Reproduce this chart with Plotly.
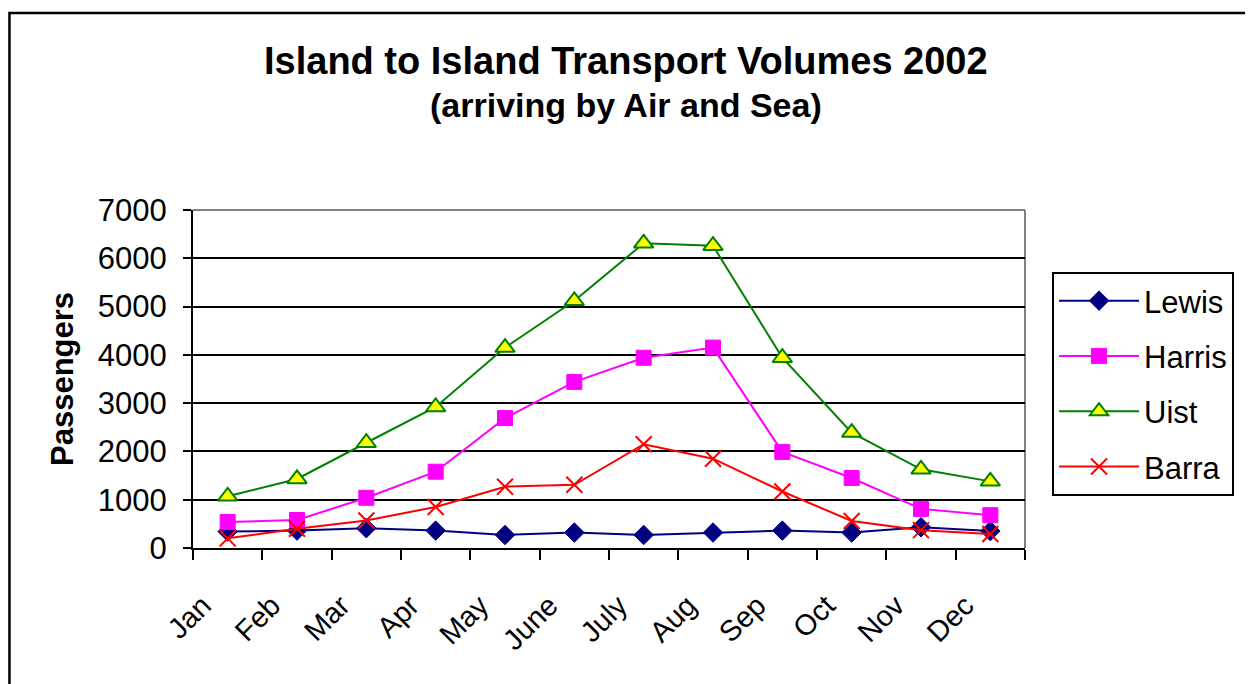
import plotly.graph_objects as go

months = ["Jan", "Feb", "Mar", "Apr", "May", "June", "July", "Aug", "Sep", "Oct", "Nov", "Dec"]
lewis = [340, 360, 410, 360, 270, 320, 270, 320, 360, 320, 430, 350]
harris = [540, 580, 1040, 1580, 2690, 3440, 3940, 4150, 1990, 1450, 810, 680]
uist = [1070, 1430, 2180, 2920, 4150, 5120, 6310, 6260, 3940, 2390, 1630, 1380]
barra = [200, 400, 570, 850, 1270, 1310, 2150, 1850, 1170, 560, 370, 290]

y_ticks = [0, 1000, 2000, 3000, 4000, 5000, 6000, 7000]

FONT = "Liberation Sans, Arial, sans-serif"

fig = go.Figure()

series = [
    ("Lewis", lewis, dict(color="#000080", width=2),
     dict(symbol="diamond", size=15, color="#000080", line=dict(color="#000080", width=1))),
    ("Harris", harris, dict(color="#FF00FF", width=2),
     dict(symbol="square", size=15, color="#FF00FF", line=dict(color="#FF00FF", width=1))),
    ("Uist", uist, dict(color="#008000", width=2),
     dict(symbol="triangle-up", size=17, color="#FFFF00", line=dict(color="#008000", width=2))),
    ("Barra", barra, dict(color="#FF0000", width=2),
     dict(symbol="x-thin", size=16, color="#FF0000", line=dict(color="#FF0000", width=2))),
]

for name, vals, ln, mk in series:
    fig.add_trace(go.Scatter(
        x=months, y=vals, name=name, mode="lines+markers",
        line=ln, marker=mk, legendgroup=name,
    ))

fig.update_layout(
    width=1253, height=684,
    margin=dict(l=185, r=236, t=202, b=144),
    paper_bgcolor="white", plot_bgcolor="white",
    font=dict(family=FONT, color="black"),
    showlegend=True,
    legend=dict(
        x=1.0325, y=0.8166, xanchor="left", yanchor="top",
        bordercolor="black", borderwidth=2,
        font=dict(size=31, family=FONT, color="black"),
        tracegroupgap=12, itemwidth=80,
        bgcolor="white",
    ),
)

fig.update_xaxes(
    type="category", categoryorder="array", categoryarray=months,
    range=[-0.5, 11.5], tickson="boundaries",
    ticks="outside", ticklen=10, tickwidth=2, tickcolor="black",
    showline=True, linecolor="black", linewidth=2,
    showgrid=False, tickangle=-45,
    tickfont=dict(size=29, family=FONT, color="black"),
    ticklabelstandoff=27, ticklabelshift=-25,
    zeroline=False,
)
fig.update_yaxes(
    range=[0, 7000], tickvals=y_ticks, ticktext=[str(v) for v in y_ticks],
    ticks="outside", ticklen=8, tickwidth=2, tickcolor="black",
    showline=True, linecolor="black", linewidth=2,
    showgrid=True, gridcolor="black", gridwidth=2,
    tickfont=dict(size=31, family=FONT, color="black"),
    ticklabelstandoff=10,
    zeroline=False,
)

# plot area border (top/right grey) and outer chart border
fig.add_shape(type="line", xref="paper", yref="paper", x0=0, x1=1, y0=1, y1=1,
              line=dict(color="#808080", width=2), layer="below")
fig.add_shape(type="line", xref="paper", yref="paper", x0=1, x1=1, y0=0, y1=1,
              line=dict(color="#808080", width=2), layer="below")
fig.add_shape(type="rect", xref="paper", yref="paper", x0=-0.2206, x1=1.2704, y0=-0.5, y1=1.583,
              line=dict(color="black", width=2.5), fillcolor="rgba(0,0,0,0)", layer="above")

fig.add_annotation(text="<b>Island to Island Transport Volumes 2002</b>", xref="paper", yref="paper",
                   x=0.521, y=1.441, xanchor="center", yanchor="middle", showarrow=False,
                   font=dict(size=38, family=FONT, color="black"))
fig.add_annotation(text="<b>(arriving by Air and Sea)</b>", xref="paper", yref="paper",
                   x=0.521, y=1.311, xanchor="center", yanchor="middle", showarrow=False,
                   font=dict(size=34, family=FONT, color="black"))
fig.add_annotation(text="<b>Passengers</b>", xref="paper", yref="paper",
                   x=-0.1575, y=0.5, xanchor="center", yanchor="middle", showarrow=False,
                   textangle=-90, font=dict(size=31, family=FONT, color="black"))

fig.write_html("out.html")
